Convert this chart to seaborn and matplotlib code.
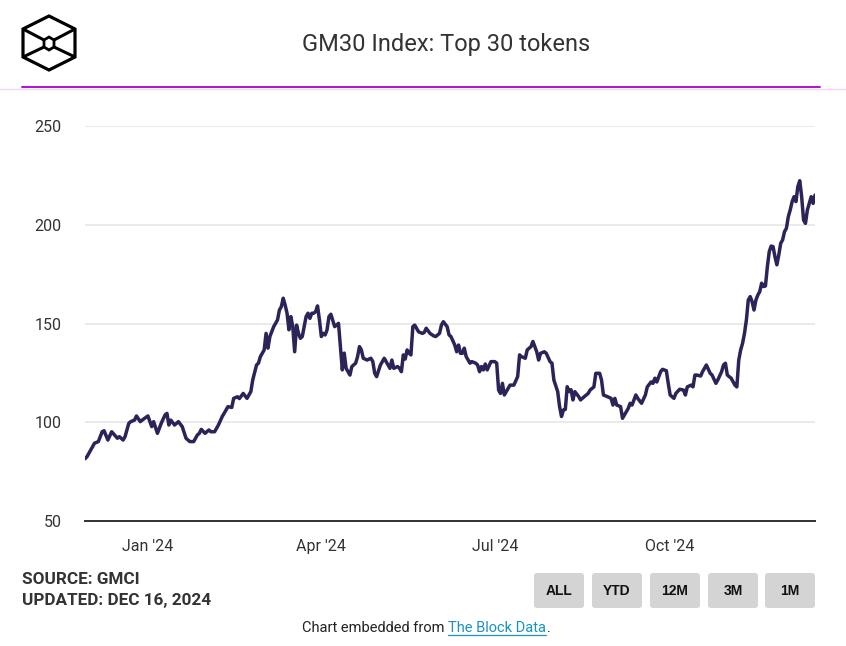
import numpy as np
import pandas as pd
import matplotlib
matplotlib.use("Agg")
import matplotlib.pyplot as plt
import seaborn as sns
from matplotlib.patches import FancyBboxPatch, Polygon

# ---------------- data (days since 2024-01-01, index value) ----------------
days = [-33, -32, -28, -26, -24, -23, -21, -19, -16, -15, -13, -12, -10, -9, -7, -6, -4, -3,
        0, 2, 3, 5, 7, 9, 10, 11, 12, 14, 16, 18, 20, 22, 24, 26, 27, 28, 30, 32, 33, 35, 37, 39,
        40, 42, 44, 45, 47, 48, 50, 52, 54, 55, 57, 58, 59, 61, 62, 63, 64, 66, 67, 68, 69, 70,
        71, 72, 73, 74, 75, 76, 77, 78, 79, 80, 81, 83, 84, 85, 86, 87, 88, 89, 90, 91, 92, 93,
        94, 95, 96, 98, 100, 101, 102, 103, 104, 106, 107, 109, 110, 111, 112, 113, 115, 117, 118,
        119, 120, 122, 124, 125, 127, 128, 129, 131, 132, 133, 134, 135, 136, 137, 138, 139, 140,
        142, 144, 145, 146, 148, 150, 151, 153, 154, 155, 157, 158, 159, 161, 162, 163, 164, 165,
        166, 167, 169, 170, 172, 173, 174, 175, 176, 177, 178, 180, 181, 182, 183, 184, 185, 186,
        187, 189, 190, 192, 194, 195, 196, 198, 199, 201, 202, 203, 204, 205, 206, 208, 209, 211,
        212, 213, 215, 216, 217, 218, 219, 220, 221, 222, 223, 224, 226, 227, 229, 231, 232, 234,
        235, 237, 238, 239, 241, 243, 244, 245, 246, 248, 249, 250, 252, 253, 254, 256, 257, 259,
        261, 262, 264, 265, 266, 267, 269, 270, 272, 273, 274, 276, 277, 279, 281, 282, 283, 285,
        286, 287, 288, 290, 291, 292, 293, 295, 296, 298, 299, 301, 302, 303, 304, 306, 308, 309,
        310, 311, 312, 313, 314, 315, 316, 317, 318, 319, 320, 321, 322, 323, 324, 325, 326, 327,
        328, 329, 330, 331, 332, 333, 334, 335, 336, 337, 338, 339, 340, 341, 342, 343, 344, 345,
        346, 347, 348, 349, 350]
values = [81.5, 82.5, 89.4, 90.2, 95.2, 95.7, 91.0, 95.2, 91.9, 92.7, 91.0, 92.7, 99.5, 100.3, 101.1, 103.2, 100.3, 101.1,
          103.2, 97.8, 100.3, 94.4, 99.5, 103.7, 104.5, 98.6, 101.1, 98.6, 100.3, 97.8, 91.9, 90.2, 90.2, 93.6, 94.4, 96.4, 94.4, 96.1, 95.2, 95.2, 98.6, 102.9,
          104.5, 107.9, 107.5, 112.1, 112.9, 112.0, 114.6, 112.1, 115.5, 121.4, 129.0, 129.9, 133.2, 136.6, 145.0, 137.5, 143.4, 148.4, 150.1, 151.8, 156.8, 158.5,
          162.8, 159.4, 155.2, 146.8, 153.5, 148.4, 135.7, 149.2, 145.0, 142.5, 143.4, 153.5, 155.2, 152.6, 155.2, 155.2, 156.0, 158.9, 151.8, 143.4, 145.0, 144.2,
          146.8, 153.5, 154.7, 148.4, 150.1, 138.3, 126.5, 135.0, 127.3, 123.9, 128.2, 129.9, 133.2, 138.3, 136.6, 132.4, 131.5, 132.4, 130.7,
          124.8, 123.1, 129.0, 132.4, 130.7, 127.3, 131.5, 127.3, 128.2, 127.3, 125.6, 134.1, 132.0, 136.6, 135.0, 134.1, 148.4, 149.2,
          145.8, 145.0, 145.5, 147.6, 145.0, 143.7, 143.4, 145.0, 149.2, 150.9, 148.4, 144.2, 143.4, 139.1, 135.7, 139.1, 134.9, 134.9,
          137.5, 133.2, 129.9, 130.7, 129.9, 129.0, 125.6, 128.2, 126.5, 129.5, 126.5, 130.7, 130.7, 130.7, 129.9, 116.3, 114.6, 119.7,
          113.8, 117.1, 118.8, 118.8, 123.1, 134.1, 133.2, 132.4, 136.6, 138.3, 140.9, 138.3, 135.7, 131.5, 134.9, 135.7, 134.9, 130.7,
          129.9, 121.4, 115.5, 107.9, 102.9, 106.2, 106.5, 118.0, 115.5, 116.5, 111.3, 115.5, 113.0, 111.3, 113.0, 114.6, 116.3, 117.9,
          124.8, 124.8, 121.4, 113.8, 113.0, 112.1, 108.7, 112.1, 108.7, 107.9, 102.0, 103.7, 107.0, 109.6, 108.7, 113.8, 112.1, 109.6,
          113.8, 117.9, 120.4, 119.7, 122.3, 120.4, 125.6, 126.8, 126.1, 119.7, 113.8, 112.1, 114.6, 116.7, 116.3, 113.8, 117.9, 118.8,
          117.9, 123.9, 123.9, 123.4, 125.6, 127.3, 129.0, 124.8, 123.9, 119.7, 121.4, 125.6, 129.0, 129.9, 123.9, 122.3, 118.8, 117.9,
          131.5, 136.6, 140.0, 145.0, 151.8, 161.9, 163.6, 161.1, 156.8, 161.9, 164.4, 166.1, 170.4, 168.7, 169.0, 178.7, 186.4, 189.2,
          188.9, 183.8, 179.7, 184.7, 190.6, 192.3, 196.5, 198.2, 204.1, 207.5, 211.7, 214.2, 211.7, 219.3, 222.3, 214.2, 202.4, 200.7,
          207.5, 210.8, 214.2, 210.8, 215.0]

y_ticks = [50, 100, 150, 200, 250]
x_tick_dates = ["2024-01-01", "2024-04-01", "2024-07-01", "2024-10-01"]
x_tick_labels = ["Jan '24", "Apr '24", "Jul '24", "Oct '24"]
buttons = ["ALL", "YTD", "12M", "3M", "1M"]

title = "GM30 Index: Top 30 tokens"
source_lines = ["SOURCE: GMCI", "UPDATED: DEC 16, 2024"]

# ---------------- styling ----------------
sns.set_theme(style="white")
plt.rcParams["font.family"] = ["Roboto", "DejaVu Sans"]

W, H = 846, 646
LINE = "#2a2459"
TXT = "#333333"

fig = plt.figure(figsize=(W / 100, H / 100), dpi=100)
fig.patch.set_facecolor("white")

dates = pd.Timestamp("2024-01-01") + pd.to_timedelta(days, unit="D")
df = pd.DataFrame({"date": dates, "value": values})

ax = fig.add_axes([85 / W, 1 - 521 / H, 730 / W, 395 / H])
sns.lineplot(data=df, x="date", y="value", ax=ax, color=LINE, linewidth=2.5,
             solid_joinstyle="round", solid_capstyle="round")
ax.set_xlim(dates[0], dates[-1])
ax.set_ylim(50, 250)
ax.set_yticks(y_ticks)
ax.set_xticks(pd.to_datetime(x_tick_dates))
ax.set_xticklabels(x_tick_labels)
ax.grid(axis="y", color="#e6e6e6", linewidth=1.2)
ax.grid(axis="x", visible=False)
ax.set_axisbelow(True)
for s in ["top", "right", "left"]:
    ax.spines[s].set_visible(False)
ax.spines["bottom"].set_color("#333333")
ax.spines["bottom"].set_linewidth(1.4)
ax.tick_params(axis="y", length=0, pad=17, labelsize=11.5, labelcolor=TXT)
ax.tick_params(axis="x", length=0, pad=13, labelsize=11.5, labelcolor=TXT)
ax.set_xlabel("")
ax.set_ylabel("")
ax.set_facecolor("white")

# ---------------- overlay (pixel coordinates) ----------------
ov = fig.add_axes([0, 0, 1, 1], zorder=5)
ov.set_xlim(0, W)
ov.set_ylim(H, 0)
ov.axis("off")
ov.patch.set_alpha(0)

# logo
outer = [(49, 16), (75, 29), (75, 57), (49, 70), (23, 57), (23, 29)]
ov.add_patch(Polygon(outer, closed=True, fill=False, edgecolor="black", linewidth=2.3, joinstyle="miter"))
inner = [(49, 37), (54, 40), (54, 47), (49, 50), (44, 47), (44, 40)]
ov.add_patch(Polygon(inner, closed=True, fill=False, edgecolor="black", linewidth=2.0, joinstyle="miter"))
for (a, b) in [(outer[5], inner[5]), (outer[1], inner[1]), (outer[4], inner[4]), (outer[2], inner[2])]:
    ov.plot([a[0], b[0]], [a[1], b[1]], color="black", linewidth=2.2, solid_capstyle="butt")

# title
ov.text(446, 45, title, ha="center", va="center", fontsize=17, color=TXT)

# separator lines
ov.plot([0, W], [88.5, 88.5], color="#ecd8f2", linewidth=1.0)
ov.plot([22, 820], [87, 87], color="#b010d0", linewidth=1.4)

# source text
ov.text(22, 580, source_lines[0], ha="left", va="center", fontsize=12.3, fontweight="bold", color=TXT)
ov.text(22, 600, source_lines[1], ha="left", va="center", fontsize=12.3, fontweight="bold", color=TXT)

# buttons
bx = [534, 592, 650, 708, 765]
for x0, lab in zip(bx, buttons):
    ov.add_patch(FancyBboxPatch((x0, 573), 50, 35, boxstyle="round,pad=0,rounding_size=3",
                                facecolor="#d4d4d4", edgecolor="none"))
    ov.text(x0 + 25, 591, lab, ha="center", va="center", fontsize=10, fontweight="bold",
            color="#111111", family=["Liberation Sans", "DejaVu Sans"])

# footer
t1 = ov.text(445, 628, "Chart embedded from", ha="right", va="center", fontsize=10.5, color="#222222")
t2 = ov.text(448, 628, "The Block Data", ha="left", va="center", fontsize=10.5, color="#1a93c0")
fig.canvas.draw()
bb = t2.get_window_extent()
x_end = bb.x1
ov.plot([448, x_end], [634.5, 634.5], color="#1a93c0", linewidth=0.9)
ov.text(x_end + 0.5, 628, ".", ha="left", va="center", fontsize=10.5, color="#222222")

fig.savefig("out.png", dpi=100, facecolor="white")
